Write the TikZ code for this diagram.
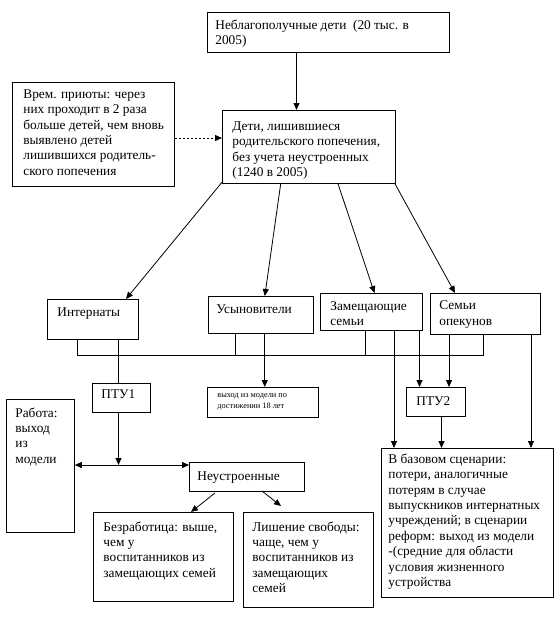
\documentclass[tikz,border=0pt]{standalone}
\usepackage{fontspec}
\setmainfont{Liberation Serif}
\usetikzlibrary{arrows.meta,calc}
\newcommand\fsz{\fontsize{13.33}{15.4}\selectfont}
\newcommand\fsmall{\fontsize{8.3}{11}\selectfont}
% width, height, left inset, top inset, text
\newcommand\bt[5]{\begin{minipage}[c][#2][t]{#1}\raggedright\leftskip=#3\relax\rightskip=-60pt plus 1fil\relax\vspace*{#4}\strut #5\par\end{minipage}}
\begin{document}
\begin{tikzpicture}[x=1pt,y=-1pt,
  every node/.style={font=\fsz},
  box/.style={draw, line width=0.8pt, anchor=north west, inner sep=0pt},
  ln/.style={line width=0.8pt},
  arr/.style={line width=0.8pt,-{Triangle[length=7pt,width=6pt]}},
  darr/.style={arr, dash pattern=on 2.5pt off 1.5pt}]
\useasboundingbox (0,0) rectangle (554,633);

% boxes
\node[box] (nb) at (207,12) {\bt{242pt}{40pt}{8pt}{6.2pt}{Неблагополучные дети\ \ (20 тыс. в\\2005)}};
\node[box] (vp) at (12,82) {\bt{162pt}{104pt}{11pt}{5.2pt}{Врем. приюты: через\\них проходит в 2 раза\\больше детей, чем вновь\\выявлено детей\\лишившихся родитель-\\ского попечения}};
\node[box] (mid) at (222,110) {\bt{173pt}{73pt}{10pt}{9.2pt}{Дети, лишившиеся\\родительского попечения,\\без учета неустроенных\\(1240 в 2005)}};
\node[box] (int) at (47,299) {\bt{91pt}{40pt}{10pt}{5.9pt}{Интернаты}};
\node[box] (usy) at (208,296) {\bt{105pt}{37pt}{8pt}{6.2pt}{Усыновители}};
\node[box] (zam) at (320,293) {\bt{102pt}{37pt}{10pt}{6.2pt}{Замещающие\\семьи}};
\node[box] (opk) at (430,293) {\bt{110pt}{41pt}{9pt}{5.8pt}{Семьи\\опекунов}};
\node[box] (ptua) at (92,383) {\bt{58pt}{29pt}{9pt}{4.7pt}{ПТУ1}};
\node[box] (sml) at (207,387) {\fsmall\bt{111pt}{30pt}{10pt}{2.8pt}{выход из модели по\\достижении 18 лет}};
\node[box] (ptub) at (406,387) {\bt{59pt}{29pt}{10pt}{6.9pt}{ПТУ2}};
\node[box] (rab) at (6,399) {\bt{68pt}{133pt}{9pt}{6.9pt}{Работа:\\выход\\из\\модели}};
\node[box] (neu) at (189,462) {\bt{115pt}{29pt}{8pt}{6.9pt}{Неустроенные}};
\node[box] (bez) at (93,512) {\bt{140pt}{89pt}{10pt}{7.9pt}{Безработица: выше,\\чем у\\воспитанников из\\замещающих семей}};
\node[box] (lsh) at (243,512) {\bt{130pt}{95pt}{9pt}{7.9pt}{Лишение свободы:\\чаще, чем у\\воспитанников из\\замещающих\\семей}};
\node[box] (baz) at (381,448) {\bt{172pt}{149pt}{7pt}{4.2pt}{В базовом сценарии:\\потери, аналогичные\\потерям в случае\\выпускников интернатных\\учреждений; в сценарии\\реформ: выход из модели\\-(средние для области\\условия жизненного\\устройства}};

% helper coordinates
\coordinate (xa) at (296.5,0);
\coordinate (ya) at (0,138);
\coordinate (s1) at (223,181);
\coordinate (t1) at (126,0);
\coordinate (s2) at (280.7,0);
\coordinate (t2) at (264.8,0);
\coordinate (s3) at (338,0);
\coordinate (t3) at (374.5,0);
\coordinate (s4) at (395,0);
\coordinate (t4) at (455,0);
\coordinate (busL) at (77,355);
\coordinate (busR) at (483.6,355);
\coordinate (xp1) at (118.5,0);
\coordinate (xu) at (235,0);
\coordinate (xz) at (365.5,0);
\coordinate (xz2) at (394,0);
\coordinate (xz3) at (419.5,0);
\coordinate (xo2) at (449,0);
\coordinate (xo3) at (531,0);
\coordinate (xp2) at (441.5,0);
\coordinate (hc) at (118.5,465);
\coordinate (n1) at (215,493);
\coordinate (n2) at (262,491);
\coordinate (e1) at (191,512);
\coordinate (e2) at (281,506);

% connectors
\draw[arr] (nb.south -| xa) -- (mid.north -| xa);
\draw[darr] (vp.east |- ya) -- (mid.west |- ya);
\draw[arr] (s1) -- (int.north -| t1);
\draw[arr] (mid.south -| s2) -- (usy.north -| t2);
\draw[arr] (mid.south -| s3) -- (zam.north -| t3);
\draw[arr] (s4 |- mid.south) -- (opk.north -| t4);

\draw[ln] (busL) -- (busR);
\draw[ln] (int.south -| busL) -- (busL);
\draw[ln] (int.south -| xp1) -- (ptua.north -| xp1);
\draw[ln] (usy.south -| xu) -- (xu |- busL);
\draw[ln] (zam.south -| xz) -- (xz |- busL);
\draw[ln] (opk.south -| busR) -- (busR);

\draw[arr] (usy.south -| t2) -- (sml.north -| t2);
\draw[arr] (zam.south -| xz2) -- (baz.north -| xz2);
\draw[arr] (zam.south -| xz3) -- (ptub.north -| xz3);
\draw[arr] (opk.south -| xo2) -- (ptub.north -| xo2);
\draw[arr] (opk.south -| xo3) -- (baz.north -| xo3);
\draw[arr] (ptub.south -| xp2) -- (baz.north -| xp2);

\draw[arr] (ptua.south -| hc) -- (hc);
\draw[arr] (hc) -- (rab.east |- hc);
\draw[arr] (hc) -- (neu.west |- hc);
\draw[arr] (n1) -- (e1);
\draw[arr] (n2) -- (e2);
\end{tikzpicture}
\end{document}
